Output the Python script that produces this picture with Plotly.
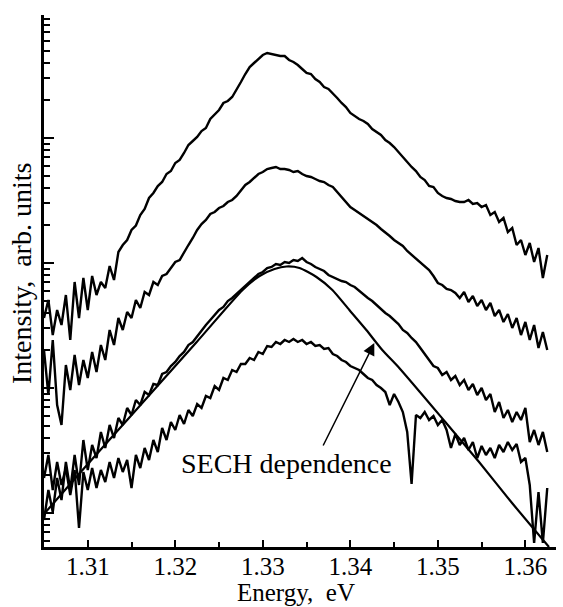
import numpy as np
import plotly.graph_objects as go

# Energy grid of the spectra (eV)
energy = np.round(np.linspace(1.305, 1.3625, 116), 5)

# log10 of intensity (arb. units), top to bottom
spec1_log = [1.560, 1.704, 1.424, 1.624, 1.504, 1.744, 1.384, 1.848, 1.560, 1.880,
             1.624, 1.896, 1.744, 1.848, 1.800, 1.976, 1.864, 2.088, 2.144, 2.184,
             2.264, 2.300, 2.384, 2.432, 2.520, 2.560, 2.616, 2.648, 2.712, 2.736,
             2.800, 2.824, 2.880, 2.944, 2.976, 3.008, 3.056, 3.080, 3.152, 3.184,
             3.224, 3.280, 3.296, 3.328, 3.384, 3.448, 3.512, 3.568, 3.600, 3.632,
             3.664, 3.680, 3.672, 3.664, 3.656, 3.656, 3.624, 3.608, 3.584, 3.552,
             3.520, 3.512, 3.472, 3.448, 3.408, 3.392, 3.360, 3.320, 3.280, 3.248,
             3.200, 3.176, 3.152, 3.136, 3.112, 3.072, 3.048, 3.024, 2.984, 2.960,
             2.928, 2.888, 2.840, 2.800, 2.768, 2.736, 2.688, 2.664, 2.616, 2.608,
             2.560, 2.536, 2.520, 2.512, 2.496, 2.488, 2.488, 2.504, 2.472, 2.480,
             2.448, 2.464, 2.384, 2.408, 2.328, 2.360, 2.248, 2.280, 2.144, 2.184,
             2.064, 2.160, 2.008, 2.120, 1.880, 2.064]

spec2_log = [1.304, 0.944, 1.384, 0.864, 0.704, 1.184, 0.984, 1.264, 1.024, 1.224,
             1.080, 1.288, 1.128, 1.344, 1.224, 1.464, 1.344, 1.560, 1.464, 1.608,
             1.560, 1.704, 1.640, 1.768, 1.744, 1.848, 1.824, 1.896, 1.912, 1.960,
             2.008, 2.024, 2.088, 2.144, 2.200, 2.264, 2.312, 2.344, 2.392, 2.408,
             2.440, 2.456, 2.488, 2.504, 2.536, 2.584, 2.624, 2.648, 2.680, 2.712,
             2.728, 2.752, 2.760, 2.768, 2.752, 2.752, 2.744, 2.728, 2.736, 2.712,
             2.696, 2.688, 2.672, 2.656, 2.648, 2.624, 2.608, 2.568, 2.520, 2.480,
             2.448, 2.424, 2.400, 2.376, 2.352, 2.328, 2.304, 2.272, 2.240, 2.216,
             2.184, 2.160, 2.136, 2.096, 2.064, 2.040, 2.008, 1.976, 1.944, 1.896,
             1.840, 1.824, 1.792, 1.784, 1.760, 1.720, 1.768, 1.688, 1.736, 1.656,
             1.704, 1.624, 1.680, 1.576, 1.624, 1.528, 1.592, 1.480, 1.560, 1.424,
             1.528, 1.384, 1.504, 1.320, 1.448, 1.304]

spec3_log = [-0.056, 0.184, 0.008, 0.280, 0.104, 0.408, 0.184, 0.464, 0.224, 0.584,
             0.344, 0.544, 0.440, 0.648, 0.520, 0.704, 0.600, 0.760, 0.704, 0.840,
             0.784, 0.904, 0.864, 0.968, 0.944, 1.032, 1.024, 1.112, 1.128, 1.176,
             1.208, 1.256, 1.288, 1.344, 1.368, 1.416, 1.464, 1.504, 1.544, 1.584,
             1.624, 1.648, 1.696, 1.720, 1.752, 1.784, 1.808, 1.848, 1.872, 1.912,
             1.928, 1.960, 1.968, 1.992, 1.984, 2.008, 2.000, 2.024, 2.016, 2.040,
             2.008, 1.992, 1.968, 1.952, 1.936, 1.904, 1.888, 1.872, 1.856, 1.848,
             1.824, 1.808, 1.776, 1.752, 1.720, 1.696, 1.664, 1.640, 1.600, 1.576,
             1.544, 1.512, 1.464, 1.440, 1.400, 1.368, 1.320, 1.272, 1.224, 1.176,
             1.160, 1.104, 1.128, 1.064, 1.096, 1.024, 1.064, 0.984, 1.032, 0.944,
             1.000, 0.904, 0.952, 0.808, 0.888, 0.760, 0.824, 0.728, 0.808, 0.744,
             0.840, 0.568, 0.664, 0.544, 0.648, 0.488]

spec4_log = [0.280, 0.464, 0.184, 0.408, 0.224, 0.360, 0.144, 0.344, -0.120, 0.328,
             0.184, 0.360, 0.200, 0.344, 0.248, 0.408, 0.280, 0.440, 0.328, 0.424,
             0.200, 0.464, 0.360, 0.520, 0.424, 0.584, 0.488, 0.680, 0.584, 0.728,
             0.664, 0.784, 0.712, 0.824, 0.776, 0.872, 0.840, 0.936, 0.920, 1.016,
             0.984, 1.080, 1.064, 1.144, 1.128, 1.192, 1.192, 1.240, 1.224, 1.288,
             1.272, 1.336, 1.328, 1.368, 1.352, 1.384, 1.368, 1.392, 1.368, 1.384,
             1.352, 1.368, 1.336, 1.344, 1.312, 1.320, 1.272, 1.256, 1.224, 1.208,
             1.176, 1.160, 1.144, 1.112, 1.080, 1.064, 1.024, 1.000, 0.968, 0.864,
             0.952, 0.888, 0.808, 0.648, 0.232, 0.784, 0.760, 0.808, 0.744, 0.776,
             0.704, 0.744, 0.664, 0.520, 0.632, 0.544, 0.600, 0.504, 0.568, 0.440,
             0.536, 0.464, 0.520, 0.440, 0.544, 0.488, 0.568, 0.504, 0.552, 0.408,
             0.440, 0.224, -0.240, 0.168, -0.240, 0.200]

# SECH dependence curve
sech_energy = [1.30500, 1.30910, 1.31481, 1.32245, 1.32769, 1.32963, 1.33134, 1.33271,
               1.33419, 1.33613, 1.33795, 1.33989, 1.34183, 1.34365, 1.34559, 1.35095,
               1.35471, 1.35848, 1.36270]
sech_log = [-0.008, 0.320, 0.768, 1.368, 1.784, 1.896, 1.952, 1.972,
            1.960, 1.888, 1.784, 1.624, 1.464, 1.304, 1.160, 0.720,
            0.408, 0.080, -0.272]

x_ticks = [1.31, 1.32, 1.33, 1.34, 1.35, 1.36]
x_labels = ["1.31", "1.32", "1.33", "1.34", "1.35", "1.36"]

FONT = "Liberation Serif"

fig = go.Figure()
for ys in (spec1_log, spec2_log, spec3_log, spec4_log):
    fig.add_trace(go.Scatter(x=energy, y=10 ** np.array(ys), mode="lines",
                             line=dict(color="black", width=2.4), hoverinfo="skip"))
fig.add_trace(go.Scatter(x=sech_energy, y=10 ** np.array(sech_log), mode="lines",
                         line=dict(color="black", width=2.2, shape="spline", smoothing=0.6),
                         hoverinfo="skip"))

fig.update_layout(
    width=563, height=607,
    margin=dict(l=44, r=7, t=15, b=60),
    paper_bgcolor="white", plot_bgcolor="white",
    showlegend=False,
    font=dict(family=FONT, color="black", size=25),
)
fig.update_xaxes(
    range=[1.305, 1.3635],
    tickmode="array", tickvals=x_ticks, ticktext=x_labels,
    ticks="inside", ticklen=7, tickwidth=2, tickcolor="black",
    ticklabelstandoff=-5,
    showline=True, linewidth=3, linecolor="black", mirror=False,
    showgrid=False, zeroline=False,
    tickfont=dict(family=FONT, size=25, color="black"),
    minor=dict(tickmode="linear", tick0=1.305, dtick=0.01, ticks="inside", ticklen=5,
               tickwidth=2, tickcolor="black", showgrid=False),
)
fig.update_yaxes(
    type="log", range=[-0.272, 3.984], dtick=1,
    ticks="inside", ticklen=10, tickwidth=2, tickcolor="black",
    showticklabels=False,
    showline=True, linewidth=3, linecolor="black", mirror=False,
    showgrid=False, zeroline=False,
    minor=dict(ticks="inside", ticklen=6, dtick="D1", tickwidth=2, tickcolor="black", showgrid=False),
)

# Axis titles
fig.add_annotation(text="Energy,\u00a0\u00a0eV", xref="paper", yref="paper", x=0.5, y=0,
                   xanchor="center", yanchor="middle", xshift=-4, yshift=-45,
                   showarrow=False, font=dict(family=FONT, size=25, color="black"))
fig.add_annotation(text="Intensity,\u00a0\u00a0arb.\u00a0units", xref="paper", yref="paper",
                   x=0, y=0.5, xanchor="center", yanchor="middle", xshift=-23, yshift=7,
                   textangle=-90, showarrow=False,
                   font=dict(family=FONT, size=28, color="black"))

# Label and arrow
fig.add_annotation(text="SECH dependence", x=1.33271, y=0.400, xref="x", yref="y",
                   showarrow=False, xanchor="center", yanchor="middle",
                   font=dict(family=FONT, size=28, color="black"))
fig.add_annotation(text="", x=1.34274, y=1.360, ax=1.33681, ay=0.528,
                   xref="x", yref="y", axref="x", ayref="y",
                   showarrow=True, arrowhead=2, arrowsize=1.6, arrowwidth=1.5,
                   arrowcolor="black", standoff=0)

fig.write_html("out.html")
